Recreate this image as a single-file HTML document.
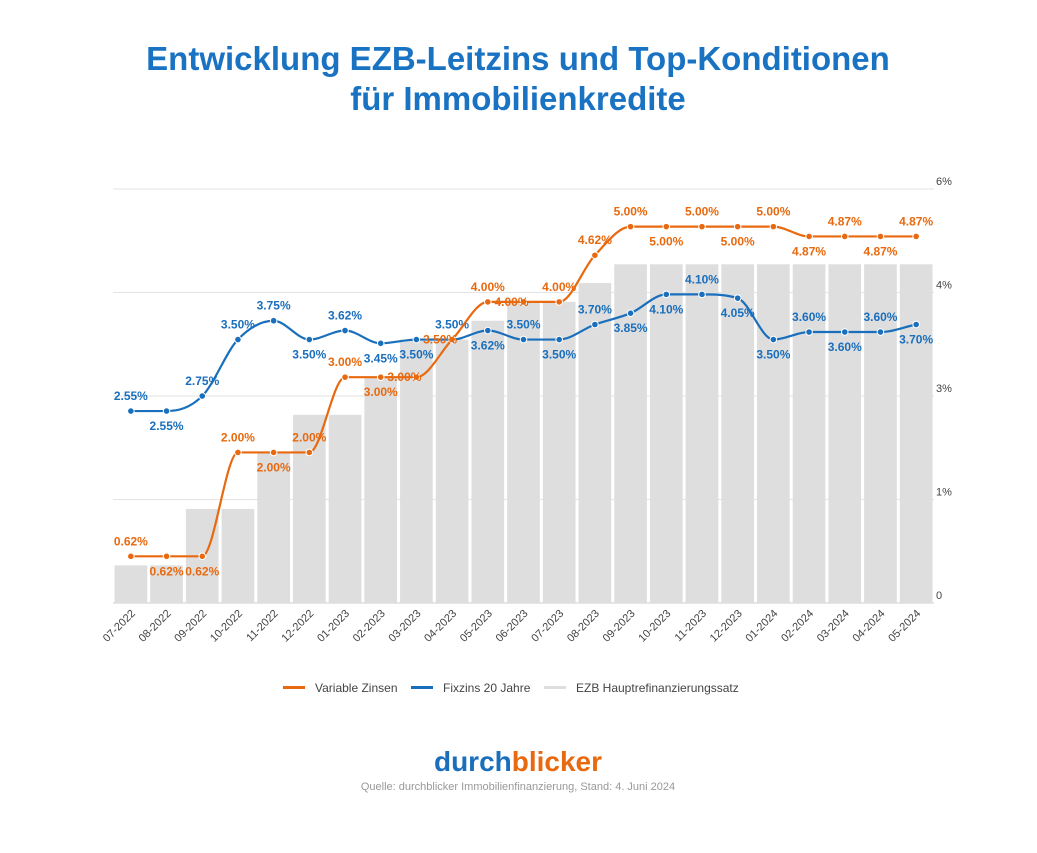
<!DOCTYPE html>
<html><head><meta charset="utf-8"><style>
body{margin:0;background:#fff;width:1037px;height:848px;overflow:hidden;font-family:"Liberation Sans",sans-serif}
</style></head><body>
<svg id="c" width="1037" height="848" viewBox="0 0 1037 848">
<text x="518" y="70" text-anchor="middle" font-size="33" font-weight="bold" fill="#1a73c2">Entwicklung EZB-Leitzins und Top-Konditionen</text>
<text x="518" y="110" text-anchor="middle" font-size="33" font-weight="bold" fill="#1a73c2">für Immobilienkredite</text>
<g id="grid"></g><g id="bars"></g><g id="lines"></g><g id="xl"></g>
<g>
<rect x="283" y="686" width="22" height="3" fill="#e8690f"/>
<text x="315" y="692" font-size="12" fill="#444">Variable Zinsen</text>
<rect x="411" y="686" width="22" height="3" fill="#1a6fbd"/>
<text x="443" y="692" font-size="12" fill="#444">Fixzins 20 Jahre</text>
<rect x="544" y="686" width="22" height="3" fill="#dedede"/>
<text x="576" y="692" font-size="12" fill="#444">EZB Hauptrefinanzierungssatz</text>
</g>
<text x="518" y="771" text-anchor="middle" font-size="28" font-weight="bold"><tspan fill="#1a6fbd">durch</tspan><tspan fill="#e8690f">blicker</tspan></text>
<text x="518" y="790" text-anchor="middle" font-size="11" fill="#999">Quelle: durchblicker Immobilienfinanzierung, Stand: 4. Juni 2024</text>
</svg>
<script>
const categories=["07-2022","08-2022","09-2022","10-2022","11-2022","12-2022","01-2023","02-2023","03-2023","04-2023","05-2023","06-2023","07-2023","08-2023","09-2023","10-2023","11-2023","12-2023","01-2024","02-2024","03-2024","04-2024","05-2024"];
const ezbValues=[0.5,0.5,1.25,1.25,2.0,2.5,2.5,3.0,3.5,3.5,3.75,4.0,4.0,4.25,4.5,4.5,4.5,4.5,4.5,4.5,4.5,4.5,4.5];
const variableValues=[0.62,0.62,0.62,2.00,2.00,2.00,3.00,3.00,3.00,3.50,4.00,4.00,4.00,4.62,5.00,5.00,5.00,5.00,5.00,4.87,4.87,4.87,4.87];
const fixValues=[2.55,2.55,2.75,3.50,3.75,3.50,3.62,3.45,3.50,3.50,3.62,3.50,3.50,3.70,3.85,4.10,4.10,4.05,3.50,3.60,3.60,3.60,3.70];
const rightTicks=[0,1.5,3,4.5,6];
const rightTickLabels=["0","1%","3%","4%","6%"];
const varLabelPos=["a","b","b","a","b","a","a","b","c","c","a","c","a","a","a","b","a","b","a","b","a","b","a"];
const fixLabelPos=["a","b","a","a","a","b","a","b","b","a","b","a","b","a","b","b","a","b","b","a","b","a","b"];
const NS="http://www.w3.org/2000/svg";
const X0=113,X1=934,Y0=603,YT=189;
const band=(X1-X0)/categories.length;
const xc=i=>X0+band*(i+0.5);
const yL=v=>Y0-v*(Y0-YT)/5.5;
const yR=v=>Y0-v*(Y0-YT)/6;
function mk(t,a,p){const e=document.createElementNS(NS,t);for(const k in a)e.setAttribute(k,a[k]);p.appendChild(e);return e;}
const grid=document.getElementById('grid');
rightTicks.forEach((t,i)=>{
 const l=mk('line',{x1:X0,x2:X1,y1:yR(t),y2:yR(t),stroke:i==0?'#ccc':'#e3e3e3','stroke-width':1},grid);
 
 
 const tx=mk('text',{x:936,y:yR(t)-4,'font-size':11,fill:'#444'},grid);tx.textContent=rightTickLabels[i];
 
 
});
const bars=document.getElementById('bars');
ezbValues.forEach((v,i)=>{
 const r=mk('rect',{x:xc(i)-band/2+1.5,y:yL(v),width:band-3,height:Y0-yL(v),fill:'#dedede'},bars);
 
 
});
function mono(pts){const n=pts.length,d=[],m=[];for(let i=0;i<n-1;i++)d.push((pts[i+1][1]-pts[i][1])/(pts[i+1][0]-pts[i][0]));
 m[0]=d[0];m[n-1]=d[n-2];for(let i=1;i<n-1;i++)m[i]=(d[i-1]*d[i]<=0)?0:(d[i-1]+d[i])/2;
 for(let i=0;i<n-1;i++){if(d[i]==0){m[i]=0;m[i+1]=0;continue;}const a=m[i]/d[i],b=m[i+1]/d[i],s=a*a+b*b;if(s>9){const t=3/Math.sqrt(s);m[i]=t*a*d[i];m[i+1]=t*b*d[i];}}
 let p='M'+pts[0][0]+','+pts[0][1];for(let i=0;i<n-1;i++){const h=(pts[i+1][0]-pts[i][0])/3;p+=` C${pts[i][0]+h},${pts[i][1]+m[i]*h} ${pts[i+1][0]-h},${pts[i+1][1]-m[i+1]*h} ${pts[i+1][0]},${pts[i+1][1]}`;}return p;}
const lines=document.getElementById('lines');
function series(vals,pos,col,name){
 const pts=vals.map((v,i)=>[xc(i),yL(v)]);
 const p=mk('path',{d:mono(pts),fill:'none',stroke:col,'stroke-width':2.2},lines);
 
 
 pts.forEach((q,i)=>{
  const c=mk('circle',{cx:q[0],cy:q[1],r:3.3,fill:col,stroke:'#fff','stroke-width':1},lines);
  
  
  const dy=pos[i]=='a'?-11:pos[i]=='b'?19:4;
  const t=mk('text',{x:q[0]-(pos[i]=='c'?12:0),y:q[1]+dy,'text-anchor':'middle','font-size':12,'font-weight':'bold',fill:col},lines);
  t.textContent=vals[i].toFixed(2)+'%';
  
  
 });
}
series(fixValues,fixLabelPos,'#1a6fbd','fixzins');
series(variableValues,varLabelPos,'#e8690f','variable');
const xl=document.getElementById('xl');
categories.forEach((c,i)=>{
 const t=mk('text',{x:xc(i)+5,y:614,'text-anchor':'end','font-size':11,fill:'#444',transform:`rotate(-45 ${xc(i)+5} 614)`},xl);
 t.textContent=c;
 
 
});
</script>
</body></html>
